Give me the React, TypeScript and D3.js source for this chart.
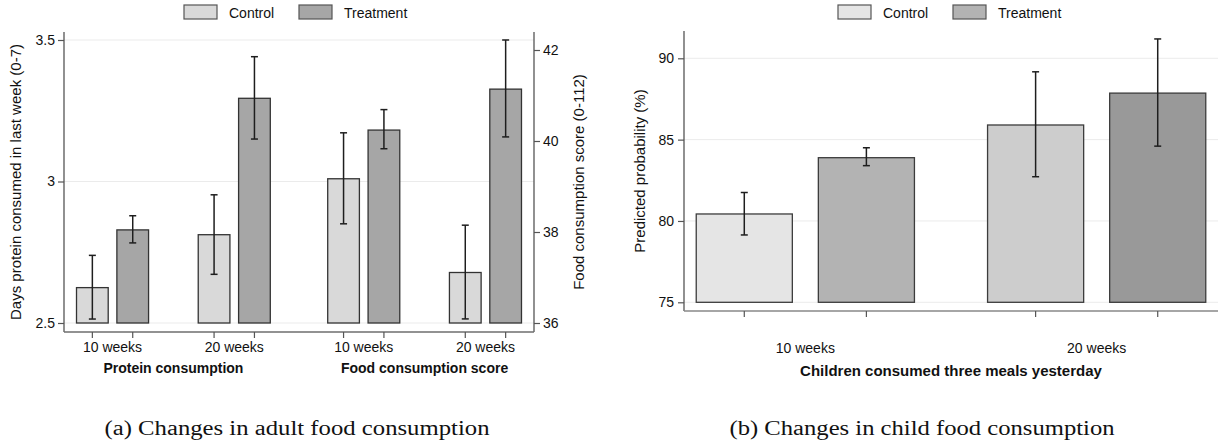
import React, { useEffect, useRef } from 'react';
import * as d3 from 'd3';

// categories
const conditions = ["Control", "Treatment"];
const weeks = ["10 weeks", "20 weeks"];
const adultGroups = ["Protein consumption", "Food consumption score"];

// panel (a) - protein days (left axis)
const proteinControl = [2.625, 2.812];
const proteinControlLo = [2.514, 2.672];
const proteinControlHi = [2.739, 2.953];
const proteinTreatment = [2.829, 3.294];
const proteinTreatmentLo = [2.783, 3.150];
const proteinTreatmentHi = [2.879, 3.441];

// panel (a) - food consumption score (right axis)
const foodControl = [39.17, 37.11];
const foodControlLo = [38.18, 36.09];
const foodControlHi = [40.18, 38.15];
const foodTreatment = [40.24, 41.14];
const foodTreatmentLo = [39.83, 40.09];
const foodTreatmentHi = [40.69, 42.22];

// panel (b) - children three meals
const childControl = [80.43, 85.9];
const childControlLo = [79.14, 82.72];
const childControlHi = [81.75, 89.17];
const childTreatment = [83.89, 87.86];
const childTreatmentLo = [83.4, 84.6];
const childTreatmentHi = [84.5, 91.19];

// tick labels
const leftTicks = [2.5, 3, 3.5];
const rightTicks = [36, 38, 40, 42];
const childTicks = [75, 80, 85, 90];

const SANS = "'Liberation Sans', Arial, Helvetica, sans-serif";
const SERIF = "'Liberation Serif', 'Times New Roman', serif";

const App = () => {
  const svgRef = useRef<SVGSVGElement>(null);

  useEffect(() => {
    const svg = d3.select(svgRef.current);
    svg.selectAll("*").remove();

    const adultTable: any = {
      "Protein consumption": {
        Control: [proteinControl, proteinControlLo, proteinControlHi],
        Treatment: [proteinTreatment, proteinTreatmentLo, proteinTreatmentHi]
      },
      "Food consumption score": {
        Control: [foodControl, foodControlLo, foodControlHi],
        Treatment: [foodTreatment, foodTreatmentLo, foodTreatmentHi]
      }
    };
    const childTable: any = {
      Control: [childControl, childControlLo, childControlHi],
      Treatment: [childTreatment, childTreatmentLo, childTreatmentHi]
    };

    // helper: draw bars + error bars
    const drawBars = (g, rows, stroke) => {
      g.selectAll(".bar")
        .data(rows)
        .enter().append("rect")
        .attr("x", d => d.x)
        .attr("y", d => d.y(d.mean))
        .attr("width", d => d.w)
        .attr("height", d => d.y(d.y.domain()[0]) - d.y(d.mean))
        .attr("fill", d => d.fill)
        .attr("stroke", stroke)
        .attr("stroke-width", 1.3);

      const err = g.selectAll(".err")
        .data(rows)
        .enter().append("g")
        .attr("stroke", "#1e1e1e")
        .attr("stroke-width", 1.5);
      err.append("line")
        .attr("x1", d => d.x + d.w / 2).attr("x2", d => d.x + d.w / 2)
        .attr("y1", d => d.y(d.lo)).attr("y2", d => d.y(d.hi));
      err.append("line")
        .attr("x1", d => d.x + d.w / 2 - 3.5).attr("x2", d => d.x + d.w / 2 + 3.5)
        .attr("y1", d => d.y(d.lo)).attr("y2", d => d.y(d.lo));
      err.append("line")
        .attr("x1", d => d.x + d.w / 2 - 3.5).attr("x2", d => d.x + d.w / 2 + 3.5)
        .attr("y1", d => d.y(d.hi)).attr("y2", d => d.y(d.hi));
    };

    const styleAxis = (ax) => {
      ax.select(".domain").remove();
      ax.selectAll("line").attr("stroke", "#555").attr("stroke-width", 1.2);
      ax.selectAll("text")
        .attr("fill", "#111")
        .style("font-family", SANS)
        .style("font-size", "14px");
    };

    const legend = (x0, gap, fills) => {
      const lg = svg.append("g").attr("transform", `translate(${x0},5)`);
      const items = lg.selectAll("g")
        .data(conditions)
        .enter().append("g")
        .attr("transform", (d, i) => `translate(${i * gap},0)`);
      items.append("rect")
        .attr("width", 33).attr("height", 14)
        .attr("fill", (d, i) => fills[i])
        .attr("stroke", "#555").attr("stroke-width", 1.2);
      items.append("text")
        .attr("x", 45).attr("y", 13)
        .style("font-family", SANS).style("font-size", "14px")
        .attr("fill", "#111")
        .text(d => d);
    };

    // ---------------- Panel (a) ----------------
    const aL = 64, aR = 534, aTop = 32, aBottom = 332;
    const yL = d3.scaleLinear().domain([2.5, 3.5]).range([323, 40]);
    const yR = d3.scaleLinear().domain([36, 42]).range([323, 50]);

    const outerA = d3.scaleBand().domain(adultGroups).range([aL, aR])
      .paddingInner(0.2286).paddingOuter(0.0498);
    const weekA = d3.scaleBand().domain(weeks).range([0, outerA.bandwidth()])
      .paddingInner(0.408).paddingOuter(0);
    const condA = d3.scaleBand().domain(conditions).range([0, weekA.bandwidth()])
      .paddingInner(0.215).paddingOuter(0);
    const fillA = d3.scaleOrdinal<string>().domain(conditions).range(["#d9d9d9", "#a6a6a6"]);

    const ga = svg.append("g");

    ga.selectAll(".grid")
      .data(leftTicks)
      .enter().append("line")
      .attr("x1", aL).attr("x2", aR)
      .attr("y1", d => yL(d)).attr("y2", d => yL(d))
      .attr("stroke", "#ebebeb").attr("stroke-width", 1);

    const adultRows = adultGroups.flatMap((grp, gi) =>
      weeks.flatMap((wk, wi) =>
        conditions.map(c => ({
          x: outerA(grp) + weekA(wk) + condA(c),
          w: condA.bandwidth(),
          mean: adultTable[grp][c][0][wi],
          lo: adultTable[grp][c][1][wi],
          hi: adultTable[grp][c][2][wi],
          y: gi === 0 ? yL : yR,
          fill: fillA(c)
        }))));
    drawBars(ga, adultRows, "#333");

    // axis lines
    ga.append("line").attr("x1", aL).attr("x2", aL).attr("y1", aTop).attr("y2", aBottom)
      .attr("stroke", "#555").attr("stroke-width", 1.3);
    ga.append("line").attr("x1", aR).attr("x2", aR).attr("y1", aTop).attr("y2", aBottom)
      .attr("stroke", "#555").attr("stroke-width", 1.3);
    ga.append("line").attr("x1", aL).attr("x2", aR).attr("y1", aBottom).attr("y2", aBottom)
      .attr("stroke", "#6e6e6e").attr("stroke-width", 1.3);

    const axL = ga.append("g").attr("transform", `translate(${aL},0)`)
      .call(d3.axisLeft(yL).tickValues(leftTicks).tickSize(6).tickPadding(3).tickFormat(d => String(d)));
    styleAxis(axL);
    const axR = ga.append("g").attr("transform", `translate(${aR},0)`)
      .call(d3.axisRight(yR).tickValues(rightTicks).tickSize(6).tickPadding(3).tickFormat(d => String(d)));
    styleAxis(axR);

    // x ticks at bar centres
    ga.selectAll(".xt")
      .data(adultRows)
      .enter().append("line")
      .attr("x1", d => d.x + d.w / 2).attr("x2", d => d.x + d.w / 2)
      .attr("y1", aBottom).attr("y2", aBottom + 6)
      .attr("stroke", "#555").attr("stroke-width", 1.2);

    const weekLabelsA = adultGroups.flatMap(grp => weeks.map(wk => ({ grp, wk })));
    ga.selectAll(".wl")
      .data(weekLabelsA)
      .enter().append("text")
      .attr("x", d => outerA(d.grp) + weekA(d.wk) + weekA.bandwidth() / 2)
      .attr("y", 351.5)
      .attr("text-anchor", "middle")
      .style("font-family", SANS).style("font-size", "14px")
      .attr("fill", "#111")
      .text(d => d.wk);

    ga.selectAll(".gl")
      .data(adultGroups)
      .enter().append("text")
      .attr("x", d => outerA(d) + outerA.bandwidth() / 2)
      .attr("y", 373)
      .attr("text-anchor", "middle")
      .style("font-family", SANS).style("font-size", "14px").style("font-weight", "700")
      .attr("fill", "#111")
      .text(d => d);

    ga.append("text")
      .attr("transform", `translate(20.5,${(aTop + aBottom) / 2}) rotate(-90)`)
      .attr("text-anchor", "middle")
      .style("font-family", SANS).style("font-size", "15px")
      .attr("fill", "#111")
      .text("Days protein consumed in last week (0-7)");

    ga.append("text")
      .attr("transform", `translate(583.5,${(aTop + aBottom) / 2}) rotate(-90)`)
      .attr("text-anchor", "middle")
      .style("font-family", SANS).style("font-size", "15px")
      .attr("fill", "#111")
      .text("Food consumption score (0-112)");

    legend(184, 115, ["#d9d9d9", "#a6a6a6"]);

    ga.append("text")
      .attr("x", 297).attr("y", 435)
      .attr("text-anchor", "middle")
      .attr("textLength", 385).attr("lengthAdjust", "spacingAndGlyphs")
      .style("font-family", SERIF).style("font-size", "20px")
      .attr("fill", "#111")
      .text("(a) Changes in adult food consumption");

    // ---------------- Panel (b) ----------------
    const bL = 684, bR = 1218, bTop = 31, bBottom = 311;
    const yC = d3.scaleLinear().domain([75, 90]).range([302.3, 58.3]);
    const outerB = d3.scaleBand().domain(weeks).range([bL, bR])
      .paddingInner(0.251).paddingOuter(0.042);
    const condB = d3.scaleBand().domain(conditions).range([0, outerB.bandwidth()])
      .paddingInner(0.213).paddingOuter(0);
    const fillB = [["#e5e5e5", "#b3b3b3"], ["#cdcdcd", "#999999"]];

    const gb = svg.append("g");
    gb.selectAll(".grid")
      .data(childTicks)
      .enter().append("line")
      .attr("x1", bL).attr("x2", bR)
      .attr("y1", d => yC(d)).attr("y2", d => yC(d))
      .attr("stroke", "#ebebeb").attr("stroke-width", 1);

    const childRows = weeks.flatMap((wk, wi) =>
      conditions.map((c, ci) => ({
        x: outerB(wk) + condB(c),
        w: condB.bandwidth(),
        mean: childTable[c][0][wi],
        lo: childTable[c][1][wi],
        hi: childTable[c][2][wi],
        y: yC,
        fill: fillB[wi][ci]
      })));
    drawBars(gb, childRows, "#3c3c3c");

    gb.append("line").attr("x1", bL).attr("x2", bL).attr("y1", bTop).attr("y2", bBottom)
      .attr("stroke", "#555").attr("stroke-width", 1.3);
    gb.append("line").attr("x1", bL).attr("x2", bR).attr("y1", bBottom).attr("y2", bBottom)
      .attr("stroke", "#888").attr("stroke-width", 1.3);

    const axC = gb.append("g").attr("transform", `translate(${bL},0)`)
      .call(d3.axisLeft(yC).tickValues(childTicks).tickSize(6).tickPadding(4).tickFormat(d => String(d)));
    styleAxis(axC);

    gb.selectAll(".xt")
      .data(childRows)
      .enter().append("line")
      .attr("x1", d => d.x + d.w / 2).attr("x2", d => d.x + d.w / 2)
      .attr("y1", bBottom).attr("y2", bBottom + 6)
      .attr("stroke", "#555").attr("stroke-width", 1.2);

    gb.selectAll(".wl")
      .data(weeks)
      .enter().append("text")
      .attr("x", d => outerB(d) + outerB.bandwidth() / 2)
      .attr("y", 352.5)
      .attr("text-anchor", "middle")
      .style("font-family", SANS).style("font-size", "14px")
      .attr("fill", "#111")
      .text(d => d);

    gb.append("text")
      .attr("x", (bL + bR) / 2).attr("y", 375.5)
      .attr("text-anchor", "middle")
      .style("font-family", SANS).style("font-size", "15px").style("font-weight", "700")
      .attr("fill", "#111")
      .text("Children consumed three meals yesterday");

    gb.append("text")
      .attr("transform", `translate(644.5,${(bTop + bBottom) / 2}) rotate(-90)`)
      .attr("text-anchor", "middle")
      .style("font-family", SANS).style("font-size", "15px")
      .attr("fill", "#111")
      .text("Predicted probability (%)");

    legend(838, 115, ["#e5e5e5", "#b3b3b3"]);

    gb.append("text")
      .attr("x", 922).attr("y", 435)
      .attr("text-anchor", "middle")
      .attr("textLength", 385).attr("lengthAdjust", "spacingAndGlyphs")
      .style("font-family", SERIF).style("font-size", "20px")
      .attr("fill", "#111")
      .text("(b) Changes in child food consumption");
  }, []);

  return (
    <svg
      ref={svgRef}
      width={1222}
      height={445}
      style={{ position: 'absolute', left: 0, top: 0, background: '#fff' }}
    />
  );
};

export default App;
